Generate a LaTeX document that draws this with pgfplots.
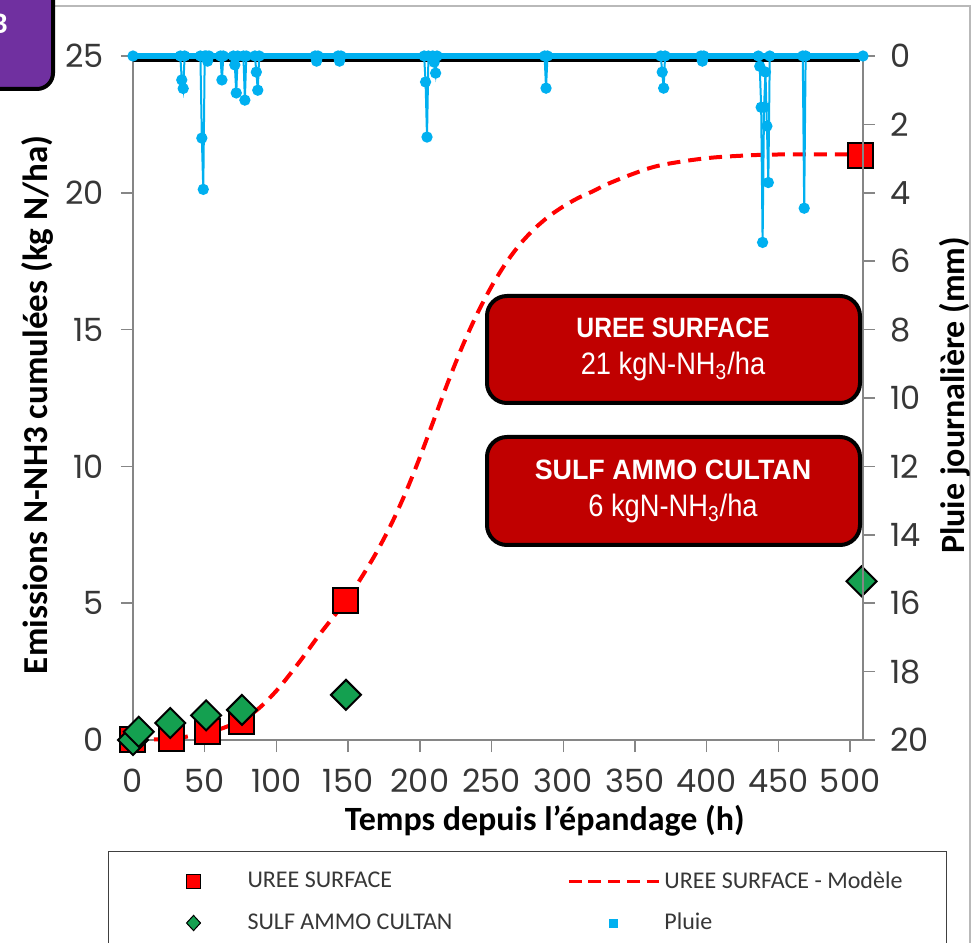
\documentclass[border=0pt]{standalone}
\usepackage{pgfplots}
\usepackage{pgfplotstable}
\pgfplotsset{compat=1.18}
\usepackage{fontspec}
\setmainfont{Carlito}
\newfontfamily\tickfont{Poppins}
\newfontfamily\boxfont[FakeStretch=0.88]{Liberation Sans}
\definecolor{rainblue}{RGB}{0,176,240}
\definecolor{ureered}{RGB}{255,0,0}
\definecolor{sulfgreen}{RGB}{20,160,80}
\definecolor{boxred}{RGB}{192,0,0}
\definecolor{badge}{RGB}{112,48,160}
\definecolor{axgray}{RGB}{134,134,134}
\definecolor{txtgray}{RGB}{55,55,55}

\pgfplotstableread{
h v
0 0
27 0.07
52 0.3
76 0.66
148.5 5.1
507 21.35
}\ureedata

\pgfplotstableread{
h v
0 0
4 0.3
26 0.62
51 0.9
76 1.1
148.5 1.65
508 5.8
}\sulfdata

\pgfplotstableread{
h v
0 0
15 0.02
35 0.1
63 0.44
84 1.0
100 1.8
116 2.85
130 3.85
142 4.65
150 5.2
160 6.0
170 6.88
180 7.88
190 9.03
200 10.33
210 11.73
220 13.13
230 14.43
240 15.58
250 16.58
260 17.43
270 18.13
280 18.69
290 19.14
300 19.5
310 19.8
320 20.04
330 20.3
344 20.6
360 20.9
372 21.05
390 21.2
407 21.3
430 21.37
450 21.4
507 21.4
}\modeldata

\pgfplotstableread{
h mm
0 0
33 0
34 0.7
35 0.95
36 0
47 0
48 2.4
49 3.9
50 0
51 0
52 0.15
53 0
61 0
62 0.7
63 0
70 0
71 0.26
72 1.08
73 0
77 0
78 1.29
79 0
85 0
86 0.47
87 1.0
88 0
127 0
128 0.15
129 0
143 0
144 0.15
145 0
203 0
204 0.76
205 2.37
206 0
209 0
210 0.18
211 0.5
212 0
287 0
288 0.94
289 0
368 0
369 0.47
370 0.94
371 0
396 0
397 0.15
398 0
436 0
437 0.3
438 1.5
439 5.45
440 1.5
441 0.47
442 2.05
443 3.7
444 0
467 0
468 4.45
469 0
509 0
}\raindata

\pgfplotsset{
  commonax/.style={
    at={(66.5pt,101.5pt)}, anchor=south west,
    scale only axis, width=365pt, height=342pt,
    xmin=0, xmax=509,
    axis line style={-, draw=axgray, line width=0.75pt},
    tick align=outside, major tick length=6pt,
    tick style={draw=axgray, line width=0.75pt},
    tick label style={font=\tickfont\fontsize{16}{19}\selectfont, text=txtgray},
    /pgf/number format/assume math mode=true,
    clip=false,
    label style={text=black},
  }
}

\begin{document}
\begin{tikzpicture}
\useasboundingbox (0,0) rectangle (488pt,471.5pt);
\clip (0,0) rectangle (488pt,471.5pt);
\draw[gray!55, line width=1pt] (26pt,468.5pt) -- (485pt,468.5pt) -- (485pt,-5pt);

\begin{axis}[commonax,
  ymin=0, ymax=25,
  axis x line*=bottom, axis y line*=left,
  xtick={0,50,...,500}, ytick={0,5,...,25},
  xticklabel style={inner ysep=1pt, yshift=-7.3pt},
  yticklabel style={xshift=-5pt},
  xlabel={Temps depuis l'épandage (h)},
  ylabel={Emissions N-NH3 cumulées (kg N/ha)},
  xlabel style={at={(axis description cs:0.564,-0.118)}, anchor=center, inner sep=0pt, font=\bfseries\fontsize{17}{20}\selectfont},
  ylabel style={at={(axis description cs:-0.1315,0.49)}, anchor=center, font=\bfseries\fontsize{17.5}{21}\selectfont},
  legend columns=2, legend cell align=left,
  legend style={at={(axis description cs:-0.0342,-0.1623)}, anchor=north west,
    draw=black!75, line width=0.5pt, fill=white,
    font=\fontsize{12}{14}\selectfont, text=txtgray,
    inner xsep=20pt, inner ysep=8pt, row sep=7pt,
    /tikz/column 2/.style={column sep=55.5pt}},
]
\addplot[ureered, line width=2pt, dash pattern=on 6.5pt off 4pt, smooth, forget plot] table[x=h,y=v] {\modeldata};
\addplot[only marks, mark=square*, mark size=6.25pt, mark options={fill=ureered, draw=black, line width=1pt, solid}, forget plot] table[x=h,y=v] {\ureedata};
\addplot[only marks, mark=square*, mark size=5.3pt, mark options={rotate=45, fill=sulfgreen, draw=black, line width=1pt, solid}, forget plot] table[x=h,y=v] {\sulfdata};

\addlegendimage{legend image code/.code={\path[draw=none,fill=none] (0pt,-3pt) rectangle (47.5pt,3pt); \draw[fill=ureered, draw=black, line width=0.6pt, solid] (19pt,-3.5pt) rectangle (26pt,3.5pt);}}
\addlegendentry{UREE SURFACE}
\addlegendimage{legend image code/.code={\path[draw=none,fill=none] (0pt,-3pt) rectangle (45pt,3pt); \draw[ureered, line width=1.5pt, dash pattern=on 6.3pt off 3.4pt] (0pt,0pt) -- (45pt,0pt);}}
\addlegendentry{UREE SURFACE - Modèle}
\addlegendimage{legend image code/.code={\path[draw=none,fill=none] (0pt,-3pt) rectangle (47.5pt,3pt); \draw[fill=sulfgreen, draw=black, line width=0.5pt, solid] (22.5pt,-3.8pt) -- (26pt,0pt) -- (22.5pt,3.8pt) -- (19pt,0pt) -- cycle;}}
\addlegendentry{SULF AMMO CULTAN}
\addlegendimage{legend image code/.code={\path[draw=none,fill=none] (0pt,-3pt) rectangle (45pt,3pt); \fill[rainblue] (20.5pt,-2pt) rectangle (24.5pt,2pt);}}
\addlegendentry{Pluie}
\end{axis}

\begin{axis}[commonax,
  ymin=0, ymax=20, y dir=reverse,
  axis x line=none, axis y line*=right,
  ytick={0,2,...,20},
  yticklabel style={xshift=4pt},
  ylabel={Pluie journalière (mm)},
  ylabel style={at={(axis description cs:1.126,0.504)}, anchor=center, font=\bfseries\fontsize{17}{20}\selectfont},
]
\addplot[black, line width=2pt, forget plot] coordinates {(0,0.12) (507,0.12)};
\addplot[rainblue, line width=3pt, forget plot] coordinates {(0,0) (509,0)};
\addplot[rainblue, line width=1pt, mark=*, mark size=2.3pt, mark options={fill=rainblue, draw=rainblue}, forget plot] table[x=h,y=mm] {\raindata};
\end{axis}

\draw[fill=boxred, draw=black, line width=2pt, rounded corners=10pt] (243.5pt,270pt) rectangle (430pt,323.5pt);
\node[text=white, font=\boxfont\bfseries\fontsize{14}{16}\selectfont] at (336.5pt,307.5pt) {UREE SURFACE};
\node[text=white, font=\boxfont\fontsize{15.5}{18}\selectfont] at (336.5pt,288.5pt) {21 kgN-NH\textsubscript{3}/ha};
\draw[fill=boxred, draw=black, line width=2pt, rounded corners=10pt] (243.5pt,199pt) rectangle (430pt,253pt);
\node[text=white, font=\boxfont\bfseries\fontsize{14}{16}\selectfont] at (336.5pt,236.5pt) {\scalebox{1.09}[1]{SULF AMMO CULTAN}};
\node[text=white, font=\boxfont\fontsize{15.5}{18}\selectfont] at (336.5pt,217.5pt) {6 kgN-NH\textsubscript{3}/ha};

\draw[fill=badge, draw=black, line width=2pt, rounded corners=8pt] (-20pt,427pt) rectangle (26.5pt,490pt);
\node[anchor=east, text=white, font=\bfseries\fontsize{15}{18}\selectfont, inner sep=0pt] at (4pt,459.5pt) {B};
\end{tikzpicture}
\end{document}
